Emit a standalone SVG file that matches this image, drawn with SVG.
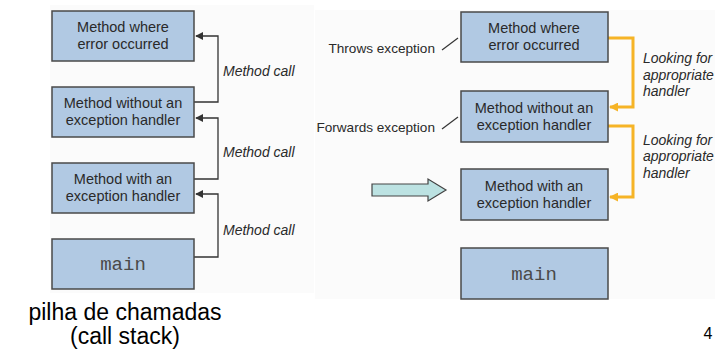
<svg xmlns="http://www.w3.org/2000/svg" width="727" height="352" viewBox="0 0 727 352">
<defs>
<style>
.box{fill:#B1C9E3;stroke:#4a4a4a;stroke-width:1.5}
.t{font-family:"Liberation Sans",Arial,sans-serif;font-size:14.5px;fill:#2a2a2a;text-anchor:middle}
.m{font-family:"Liberation Mono","Courier New",monospace;font-size:19px;fill:#4a4a4a;text-anchor:middle}
.it{font-family:"Liberation Sans",Arial,sans-serif;font-size:14px;font-style:italic;fill:#2a2a2a}
.lab{font-family:"Liberation Sans",Arial,sans-serif;font-size:13.6px;fill:#2a2a2a;text-anchor:end}
.blk{fill:none;stroke:#333;stroke-width:1.3}
.org{fill:none;stroke:#F6B426;stroke-width:3}
.big{font-family:"Liberation Sans",Arial,sans-serif;font-size:23px;fill:#000;text-anchor:middle}
</style>
<marker id="ab" viewBox="0 0 10 10" refX="9" refY="5" markerWidth="8" markerHeight="8" markerUnits="userSpaceOnUse" orient="auto"><path d="M0,0 L10,5 L0,10 Z" fill="#333"/></marker>
<marker id="ao" viewBox="0 0 10 10" refX="9" refY="5" markerWidth="9" markerHeight="9" markerUnits="userSpaceOnUse" orient="auto"><path d="M0,0 L10,5 L0,10 Z" fill="#F6B426"/></marker>
</defs>
<rect x="0" y="0" width="727" height="352" fill="#fff"/>
<rect x="50" y="5" width="264" height="288" fill="#FBFBFB"/>
<rect x="315" y="10" width="400" height="289" fill="#FBFBFB"/>

<g id="connectors">
<path class="blk" d="M194,102 H218 V36 H196" marker-end="url(#ab)"/>
<path class="blk" d="M194,179 H218 V118 H196" marker-end="url(#ab)"/>
<path class="blk" d="M194,257 H218 V194 H196" marker-end="url(#ab)"/>
<path class="org" d="M608,38 H633 V107 H610" marker-end="url(#ao)"/>
<path class="org" d="M608,126 H633 V197 H610" marker-end="url(#ao)"/>
<line x1="442" y1="50" x2="458" y2="38" stroke="#333" stroke-width="1.2"/>
<line x1="442" y1="129" x2="458" y2="117" stroke="#333" stroke-width="1.2"/>
</g>

<g id="L1"><rect class="box" x="52" y="11" width="142" height="50"/><text class="t" x="123" y="32">Method where</text><text class="t" x="123" y="49">error occurred</text></g>
<g id="L2"><rect class="box" x="52" y="87" width="142" height="50"/><text class="t" x="123" y="108">Method without an</text><text class="t" x="123" y="125">exception handler</text></g>
<g id="L3"><rect class="box" x="52" y="163" width="142" height="50"/><text class="t" x="123" y="184">Method with an</text><text class="t" x="123" y="201">exception handler</text></g>
<g id="L4"><rect class="box" x="52" y="239" width="142" height="50"/><text class="m" x="123" y="270" font-size="20">main</text></g>

<g id="labels-left">
<text class="it" x="223" y="76">Method call</text>
<text class="it" x="223" y="157">Method call</text>
<text class="it" x="223" y="235">Method call</text>
</g>

<g id="R1"><rect class="box" x="461" y="12" width="147" height="50"/><text class="t" x="534" y="33">Method where</text><text class="t" x="534" y="50">error occurred</text></g>
<g id="R2"><rect class="box" x="461" y="91" width="147" height="51"/><text class="t" x="534" y="113">Method without an</text><text class="t" x="534" y="130">exception handler</text></g>
<g id="R3"><rect class="box" x="461" y="169" width="147" height="51"/><text class="t" x="534" y="191">Method with an</text><text class="t" x="534" y="208">exception handler</text></g>
<g id="R4"><rect class="box" x="461" y="248" width="147" height="51"/><text class="m" x="534" y="280">main</text></g>

<g id="labels-right">
<text class="lab" x="435" y="53">Throws exception</text>
<text class="lab" x="435" y="132">Forwards exception</text>
<text class="it" x="643" y="63">Looking for</text>
<text class="it" x="643" y="80">appropriate</text>
<text class="it" x="643" y="96">handler</text>
<text class="it" x="643" y="145">Looking for</text>
<text class="it" x="643" y="161">appropriate</text>
<text class="it" x="643" y="178">handler</text>
</g>

<g id="pointer"><path d="M372,184 H428 V179 L446,190 L428,201 V196 H372 Z" fill="#BCE2E2" stroke="#444" stroke-width="1.2"/></g>

<g id="caption">
<text class="big" x="125" y="320">pilha de chamadas</text>
<text class="big" x="125" y="344">(call stack)</text>
<text x="708" y="339" font-family="Liberation Sans,Arial,sans-serif" font-size="16" fill="#000" text-anchor="middle">4</text>
</g>
</svg>
